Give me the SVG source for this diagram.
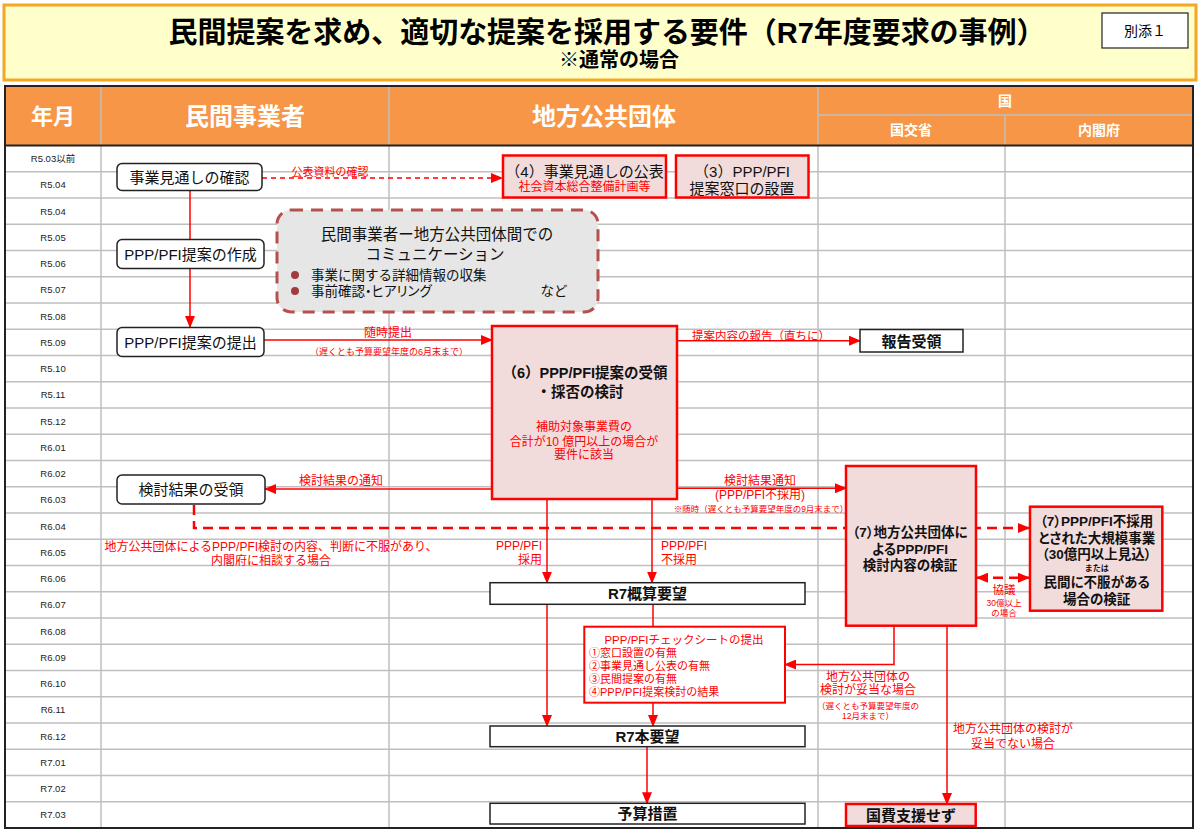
<svg xmlns="http://www.w3.org/2000/svg" width="1200" height="839" viewBox="0 0 1200 839">
<style>
text { font-family: "Liberation Sans","Noto Sans CJK JP",sans-serif; }
.lbl { font-size:9.5px; fill:#222; text-anchor:middle; dominant-baseline:central; }
.hd { fill:#fff; font-weight:bold; text-anchor:middle; dominant-baseline:central; }
.grid { stroke:#BFBFBF; stroke-width:1.5; }
.node { fill:#fff; stroke:#222; stroke-width:1.5; }
.pink { fill:#F2DCDB; stroke:#FF0000; stroke-width:2.5; }
.nt { font-size:15px; fill:#111; text-anchor:middle; dominant-baseline:central; }
.b { font-weight:bold; }
.rl { font-size:12px; fill:#FF0000; text-anchor:middle; dominant-baseline:central; }
.s7 { font-size:13.5px; font-feature-settings:"palt"; }
.arr { stroke:#FF0000; stroke-width:1.5; fill:none; }
.dash { stroke:#FF0000; stroke-width:2.5; fill:none; stroke-dasharray:10 6; }
</style>
<defs>
<marker id="ah" markerUnits="userSpaceOnUse" markerWidth="12" markerHeight="10" refX="11" refY="5" orient="auto-start-reverse" viewBox="0 0 12 10">
<path d="M0,0 L12,5 L0,10 Z" fill="#FF0000"/>
</marker>
</defs>
<rect x="0" y="0" width="1200" height="839" fill="#fff"/>

<g id="title">
<rect x="4" y="5" width="1192" height="75" fill="#FFFFCC" stroke="#F5A623" stroke-width="3"/>
<text x="607" y="33" font-size="29" font-weight="bold" text-anchor="middle" dominant-baseline="central" fill="#000" textLength="877">民間提案を求め、適切な提案を採用する要件（R7年度要求の事例）</text>
<text x="619" y="60" font-size="20" font-weight="bold" text-anchor="middle" dominant-baseline="central" fill="#000">※通常の場合</text>
<rect x="1102" y="13" width="86" height="35" fill="#fff" stroke="#222" stroke-width="1.2"/>
<text x="1145" y="31" font-size="14" text-anchor="middle" dominant-baseline="central" fill="#000">別添１</text>
</g>

<g id="table">
<rect x="5" y="86" width="1188" height="59.5" fill="#F79646"/>
<g class="grid">
<line x1="5" y1="171.75" x2="1193" y2="171.75"/>
<line x1="5" y1="198" x2="1193" y2="198"/>
<line x1="5" y1="224.25" x2="1193" y2="224.25"/>
<line x1="5" y1="250.5" x2="1193" y2="250.5"/>
<line x1="5" y1="276.75" x2="1193" y2="276.75"/>
<line x1="5" y1="303" x2="1193" y2="303"/>
<line x1="5" y1="329.25" x2="1193" y2="329.25"/>
<line x1="5" y1="355.5" x2="1193" y2="355.5"/>
<line x1="5" y1="381.75" x2="1193" y2="381.75"/>
<line x1="5" y1="408" x2="1193" y2="408"/>
<line x1="5" y1="434.25" x2="1193" y2="434.25"/>
<line x1="5" y1="460.5" x2="1193" y2="460.5"/>
<line x1="5" y1="486.75" x2="1193" y2="486.75"/>
<line x1="5" y1="513" x2="1193" y2="513"/>
<line x1="5" y1="539.25" x2="1193" y2="539.25"/>
<line x1="5" y1="565.5" x2="1193" y2="565.5"/>
<line x1="5" y1="591.75" x2="1193" y2="591.75"/>
<line x1="5" y1="618" x2="1193" y2="618"/>
<line x1="5" y1="644.25" x2="1193" y2="644.25"/>
<line x1="5" y1="670.5" x2="1193" y2="670.5"/>
<line x1="5" y1="696.75" x2="1193" y2="696.75"/>
<line x1="5" y1="723" x2="1193" y2="723"/>
<line x1="5" y1="749.25" x2="1193" y2="749.25"/>
<line x1="5" y1="775.5" x2="1193" y2="775.5"/>
<line x1="5" y1="801.75" x2="1193" y2="801.75"/>
<line x1="101" y1="86" x2="101" y2="828"/>
<line x1="389" y1="86" x2="389" y2="828"/>
<line x1="818" y1="86" x2="818" y2="828"/>
<line x1="1005" y1="115" x2="1005" y2="828"/>
<line x1="818" y1="115" x2="1193" y2="115"/>
</g>
<line x1="5" y1="145.5" x2="1193" y2="145.5" stroke="#222" stroke-width="2"/>
<rect x="5" y="86" width="1188" height="742" fill="none" stroke="#222" stroke-width="2"/>
<text class="hd" x="53" y="116" font-size="22">年月</text>
<text class="hd" x="245" y="116" font-size="24">民間事業者</text>
<text class="hd" x="604" y="116" font-size="24">地方公共団体</text>
<text class="hd" x="1005" y="101" font-size="14">国</text>
<text class="hd" x="911" y="130" font-size="14">国交省</text>
<text class="hd" x="1099" y="130" font-size="14">内閣府</text>
<g>
<text class="lbl" x="53" y="158.6">R5.03以前</text>
<text class="lbl" x="53" y="184.9">R5.04</text>
<text class="lbl" x="53" y="211.1">R5.04</text>
<text class="lbl" x="53" y="237.4">R5.05</text>
<text class="lbl" x="53" y="263.6">R5.06</text>
<text class="lbl" x="53" y="289.9">R5.07</text>
<text class="lbl" x="53" y="316.1">R5.08</text>
<text class="lbl" x="53" y="342.4">R5.09</text>
<text class="lbl" x="53" y="368.6">R5.10</text>
<text class="lbl" x="53" y="394.9">R5.11</text>
<text class="lbl" x="53" y="421.1">R5.12</text>
<text class="lbl" x="53" y="447.4">R6.01</text>
<text class="lbl" x="53" y="473.6">R6.02</text>
<text class="lbl" x="53" y="499.9">R6.03</text>
<text class="lbl" x="53" y="526.1">R6.04</text>
<text class="lbl" x="53" y="552.4">R6.05</text>
<text class="lbl" x="53" y="578.6">R6.06</text>
<text class="lbl" x="53" y="604.9">R6.07</text>
<text class="lbl" x="53" y="631.1">R6.08</text>
<text class="lbl" x="53" y="657.4">R6.09</text>
<text class="lbl" x="53" y="683.6">R6.10</text>
<text class="lbl" x="53" y="709.9">R6.11</text>
<text class="lbl" x="53" y="736.1">R6.12</text>
<text class="lbl" x="53" y="762.4">R7.01</text>
<text class="lbl" x="53" y="788.6">R7.02</text>
<text class="lbl" x="53" y="814.9">R7.03</text>
</g>
</g>

<g id="connectors">
<line class="arr" x1="190" y1="190" x2="190" y2="239"/>
<line class="arr" x1="190" y1="268" x2="190" y2="327" marker-end="url(#ah)"/>
<line x1="262" y1="178" x2="502" y2="178" stroke="#FF0000" stroke-width="1.3" stroke-dasharray="5 4" marker-end="url(#ah)"/>
<line class="arr" x1="264" y1="340" x2="492" y2="340" marker-end="url(#ah)"/>
<line class="arr" x1="677" y1="340.7" x2="860" y2="340.7" marker-end="url(#ah)"/>
<line class="arr" x1="492" y1="489" x2="265" y2="489" marker-end="url(#ah)"/>
<line class="arr" x1="677" y1="488.3" x2="846" y2="488.3" marker-end="url(#ah)"/>
<path class="dash" d="M194,505 V528 H1029" marker-end="url(#ah)"/>
<line class="dash" x1="977" y1="577.7" x2="1029" y2="577.7" marker-start="url(#ah)" marker-end="url(#ah)"/>
<line class="arr" x1="547" y1="499" x2="547" y2="582.7" marker-end="url(#ah)"/>
<line class="arr" x1="652" y1="499" x2="652" y2="582.7" marker-end="url(#ah)"/>
<line class="arr" x1="547" y1="604.3" x2="547" y2="726" marker-end="url(#ah)"/>
<line class="arr" x1="653" y1="604.3" x2="653" y2="626.7"/>
<line class="arr" x1="653" y1="702.7" x2="653" y2="726" marker-end="url(#ah)"/>
<line class="arr" x1="647" y1="746.7" x2="647" y2="803.3" marker-end="url(#ah)"/>
<path class="arr" d="M894,626 V664.5 H785" marker-end="url(#ah)"/>
<line class="arr" x1="947" y1="626" x2="947" y2="804" marker-end="url(#ah)"/>
<text class="rl" x="330" y="171.5" style="font-size:11px">公表資料の確認</text>
<text class="rl" x="388" y="333.3">随時提出</text>
<text class="rl" x="389" y="351.7" style="font-size:9px">（遅くとも予算要望年度の6月末まで）</text>
<text class="rl" x="761" y="335.5" style="font-size:11.5px">提案内容の報告（直ちに）</text>
<text class="rl" x="341" y="480.7">検討結果の通知</text>
<text class="rl" x="760" y="481">検討結果通知</text>
<text class="rl" x="760" y="495">(PPP/PFI不採用)</text>
<text class="rl" x="761" y="509" style="font-size:8.5px">※随時（遅くとも予算要望年度の9月末まで）</text>
<text class="rl" x="271" y="546.7">地方公共団体によるPPP/PFI検討の内容、判断に不服があり、</text>
<text class="rl" x="271" y="561">内閣府に相談する場合</text>
<text class="rl" x="542" y="545.7" style="text-anchor:end">PPP/PFI</text>
<text class="rl" x="542" y="560" style="text-anchor:end">採用</text>
<text class="rl" x="661" y="545.7" style="text-anchor:start">PPP/PFI</text>
<text class="rl" x="661" y="560" style="text-anchor:start">不採用</text>
<text class="rl" x="1004" y="590" style="font-size:11.5px">協議</text>
<text class="rl" x="1004" y="602.7" style="font-size:8.5px">30億以上</text>
<text class="rl" x="1004" y="613.3" style="font-size:8.5px">の場合</text>
<text class="rl" x="868" y="676.7">地方公共団体の</text>
<text class="rl" x="868" y="690">検討が妥当な場合</text>
<text class="rl" x="868" y="706" style="font-size:8.5px">（遅くとも予算要望年度の</text>
<text class="rl" x="868" y="716" style="font-size:8.5px">12月末まで）</text>
<text class="rl" x="1013" y="729.3">地方公共団体の検討が</text>
<text class="rl" x="1013" y="744">妥当でない場合</text>
</g>

<g id="n-kakunin">
<rect class="node" x="117" y="163.5" width="145" height="27" rx="5"/>
<text class="nt" x="189.5" y="177.5">事業見通しの確認</text>
</g>
<g id="n-sakusei">
<rect class="node" x="117" y="239.5" width="147" height="29" rx="5"/>
<text class="nt" x="190.5" y="254">PPP/PFI提案の作成</text>
</g>
<g id="n-teishutsu">
<rect class="node" x="117" y="327.5" width="147" height="29" rx="5"/>
<text class="nt" x="190.5" y="342">PPP/PFI提案の提出</text>
</g>
<g id="n-juryo">
<rect class="node" x="117" y="475" width="148" height="29" rx="5"/>
<text class="nt" x="191" y="489.5">検討結果の受領</text>
</g>

<g id="n-comm">
<rect x="277" y="210" width="321" height="102" rx="14" fill="#E6E6E6" stroke="#B5504C" stroke-width="3" stroke-dasharray="12 8"/>
<text class="nt" x="437" y="234.3" style="font-size:15.5px">民間事業者ー地方公共団体間での</text>
<text class="nt" x="435" y="254.3" style="font-size:15.5px">コミュニケーション</text>
<circle cx="295" cy="275" r="4" fill="#A33B3B"/>
<circle cx="295" cy="291" r="4" fill="#A33B3B"/>
<text class="nt" x="311" y="275" style="font-size:13.5px;text-anchor:start">事業に関する詳細情報の収集</text>
<text class="nt" x="311" y="291" style="font-size:13.5px;text-anchor:start;font-feature-settings:'palt'">事前確認・ヒアリング</text>
<text class="nt" x="554" y="291" style="font-size:13.5px">など</text>
</g>

<g id="n-kohyo">
<rect class="pink" x="503" y="155.5" width="163" height="42"/>
<text class="nt" x="584.5" y="171.7">（4）事業見通しの公表</text>
<text class="rl" x="584.5" y="187">社会資本総合整備計画等</text>
</g>
<g id="n-madoguchi">
<rect class="pink" x="676" y="155.5" width="132.5" height="42"/>
<text class="nt" x="742" y="171.7">（3）PPP/PFI</text>
<text class="nt" x="742" y="188.5">提案窓口の設置</text>
</g>

<g id="n-kento">
<rect class="pink" x="492" y="326" width="185" height="173"/>
<text class="nt b" x="585" y="373.3" style="font-size:14.5px">（6）PPP/PFI提案の受領</text>
<text class="nt b" x="580" y="391.7" style="font-size:14.5px">・採否の検討</text>
<text class="rl" x="584" y="426.7">補助対象事業費の</text>
<text class="rl" x="584" y="441.7">合計が10 億円以上の場合が</text>
<text class="rl" x="584" y="455.3">要件に該当</text>
</g>

<g id="n-hokoku">
<rect class="node" x="860" y="329.5" width="103" height="22.5"/>
<text class="nt b" x="911.5" y="341">報告受領</text>
</g>

<g id="n-kensho">
<rect class="pink" x="846" y="466" width="130" height="159.7"/>
<text class="nt b s7" x="910" y="532.3">（7）地方公共団体に</text>
<text class="nt b s7" x="910" y="549.3">よるPPP/PFI</text>
<text class="nt b s7" x="910" y="565">検討内容の検証</text>
</g>

<g id="n-naikaku">
<rect class="pink" x="1030" y="506.7" width="132.3" height="104"/>
<text class="nt b s7" x="1096.7" y="521.7">（7）PPP/PFI不採用</text>
<text class="nt b s7" x="1096.7" y="538.3">とされた大規模事業</text>
<text class="nt b s7" x="1096.7" y="554">（30億円以上見込）</text>
<text class="nt b" x="1096.7" y="568.3" style="font-size:8px">または</text>
<text class="nt b s7" x="1096.7" y="582.7">民間に不服がある</text>
<text class="nt b s7" x="1096.7" y="599">場合の検証</text>
</g>

<g id="n-gaisan">
<rect class="node" x="490" y="582.7" width="315" height="21.6"/>
<text class="nt b" x="647.5" y="593.5">R7概算要望</text>
</g>

<g id="n-check">
<rect x="584.3" y="626.7" width="200.7" height="76" fill="#fff" stroke="#FF0000" stroke-width="2"/>
<text class="rl" x="684" y="640" style="font-size:11.5px">PPP/PFIチェックシートの提出</text>
<text class="rl" x="589" y="652.7" style="font-size:11px;text-anchor:start">①窓口設置の有無</text>
<text class="rl" x="589" y="665.7" style="font-size:11px;text-anchor:start">②事業見通し公表の有無</text>
<text class="rl" x="589" y="679" style="font-size:11px;text-anchor:start">③民間提案の有無</text>
<text class="rl" x="589" y="691.7" style="font-size:11px;text-anchor:start">④PPP/PFI提案検討の結果</text>
</g>

<g id="n-honyobo">
<rect class="node" x="490" y="726" width="315" height="20.7"/>
<text class="nt b" x="647.5" y="736.3">R7本要望</text>
</g>

<g id="n-yosan">
<rect class="node" x="490" y="803.3" width="315" height="20.7"/>
<text class="nt b" x="647.5" y="813.7">予算措置</text>
</g>

<g id="n-kokuhi">
<rect class="pink" x="846" y="804" width="129.7" height="22"/>
<text class="nt b" x="911" y="815">国費支援せず</text>
</g>
</svg>
